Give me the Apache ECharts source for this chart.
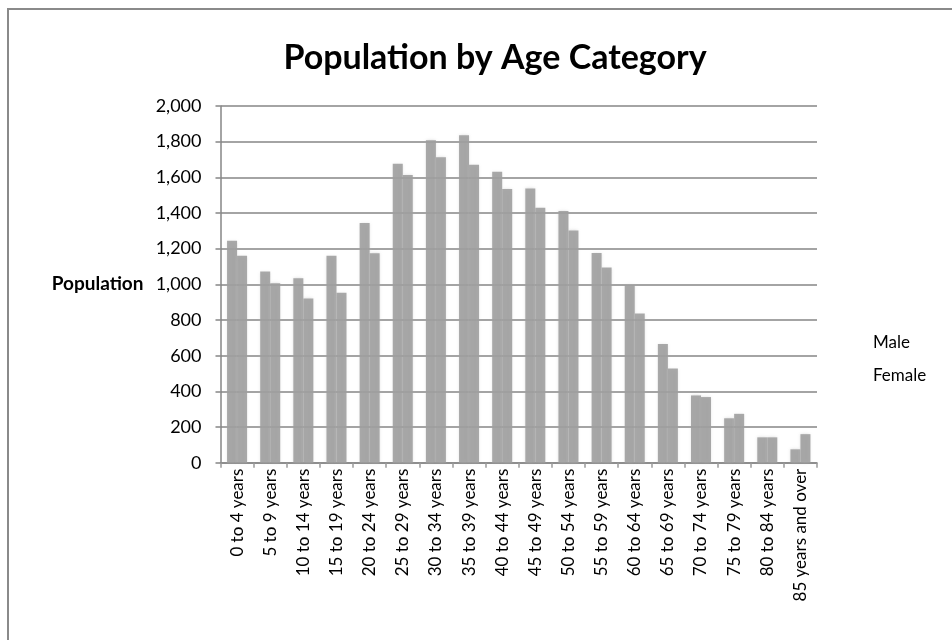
<!DOCTYPE html>
<html>
<head>
<meta charset="utf-8">
<script src="https://cdn.jsdelivr.net/npm/echarts@6/dist/echarts.min.js"></script>
<style>
html,body{margin:0;padding:0;width:952px;height:640px;overflow:hidden;background:#fff;}
#frame{position:absolute;left:7px;top:8px;width:2000px;height:2000px;border:2px solid #8a8a8a;box-sizing:border-box;}
#chart{position:absolute;left:0;top:0;width:952px;height:640px;}
</style>
</head>
<body>
<div id="frame"></div>
<div id="chart"></div>
<script>
const categories = ["0 to 4 years","5 to 9 years","10 to 14 years","15 to 19 years","20 to 24 years","25 to 29 years","30 to 34 years","35 to 39 years","40 to 44 years","45 to 49 years","50 to 54 years","55 to 59 years","60 to 64 years","65 to 69 years","70 to 74 years","75 to 79 years","80 to 84 years","85 years and over"];
const male = [1245,1072,1034,1160,1344,1676,1808,1836,1632,1538,1411,1176,996,666,377,249,142,75];
const female = [1160,1006,921,953,1174,1613,1713,1670,1534,1430,1302,1094,836,528,368,274,142,160];
const seriesNames = ["Male","Female"];
const titleText = "Population by Age Category";
const yAxisTitle = "Population";

const FONT = "Lato";
const chart = echarts.init(document.getElementById('chart'), null, {renderer:'canvas'});
const barStyle = {
  color: 'rgba(158,158,158,0.88)',
  shadowBlur: 3,
  shadowColor: 'rgba(180,180,180,0.5)'
};
chart.setOption({
  animation: false,
  backgroundColor: 'transparent',
  textStyle: {fontFamily: FONT},
  title: {
    text: titleText,
    left: 490,
    textAlign: 'center',
    top: 36,
    textStyle: {fontFamily: FONT, fontSize: 34, fontWeight: 'bold', color: '#000'}
  },
  legend: {
    orient: 'vertical',
    left: 853,
    top: 329,
    itemGap: 16,
    itemWidth: 10,
    itemHeight: 10,
    icon: 'rect',
    itemStyle: {opacity: 0},
    textStyle: {fontFamily: FONT, fontSize: 17, color: '#000'},
    data: seriesNames
  },
  grid: {left: 220.5, right: 135, top: 106, bottom: 177.3, containLabel: false},
  xAxis: {
    type: 'category',
    data: categories,
    axisLine: {lineStyle: {color: '#868686', width: 1.5}},
    axisTick: {show: true, length: 5, lineStyle: {color: '#9a9a9a', width: 1.5}},
    axisLabel: {rotate: 90, interval: 0, margin: 6, fontFamily: FONT, fontSize: 17, color: '#000'},
    splitLine: {show: false}
  },
  yAxis: {
    type: 'value',
    min: 0, max: 2000, interval: 200,
    name: yAxisTitle,
    nameLocation: 'middle',
    nameRotate: 0,
    nameGap: 77,
    nameTextStyle: {fontFamily: FONT, fontSize: 19, fontWeight: 'bold', color: '#000'},
    axisLine: {show: true, lineStyle: {color: '#868686', width: 1.5}},
    axisTick: {show: true, length: 5, lineStyle: {color: '#868686', width: 1.5}},
    axisLabel: {margin: 19, fontFamily: FONT, fontSize: 18, color: '#000',
      formatter: v => v.toLocaleString('en-US')},
    splitLine: {show: true, lineStyle: {color: '#868686', width: 1.5}}
  },
  series: [
    {name: seriesNames[0], type: 'bar', data: male, barWidth: 10, barGap: '0%', itemStyle: barStyle},
    {name: seriesNames[1], type: 'bar', data: female, barWidth: 10, barGap: '0%', itemStyle: barStyle}
  ]
});
</script>
</body>
</html>
